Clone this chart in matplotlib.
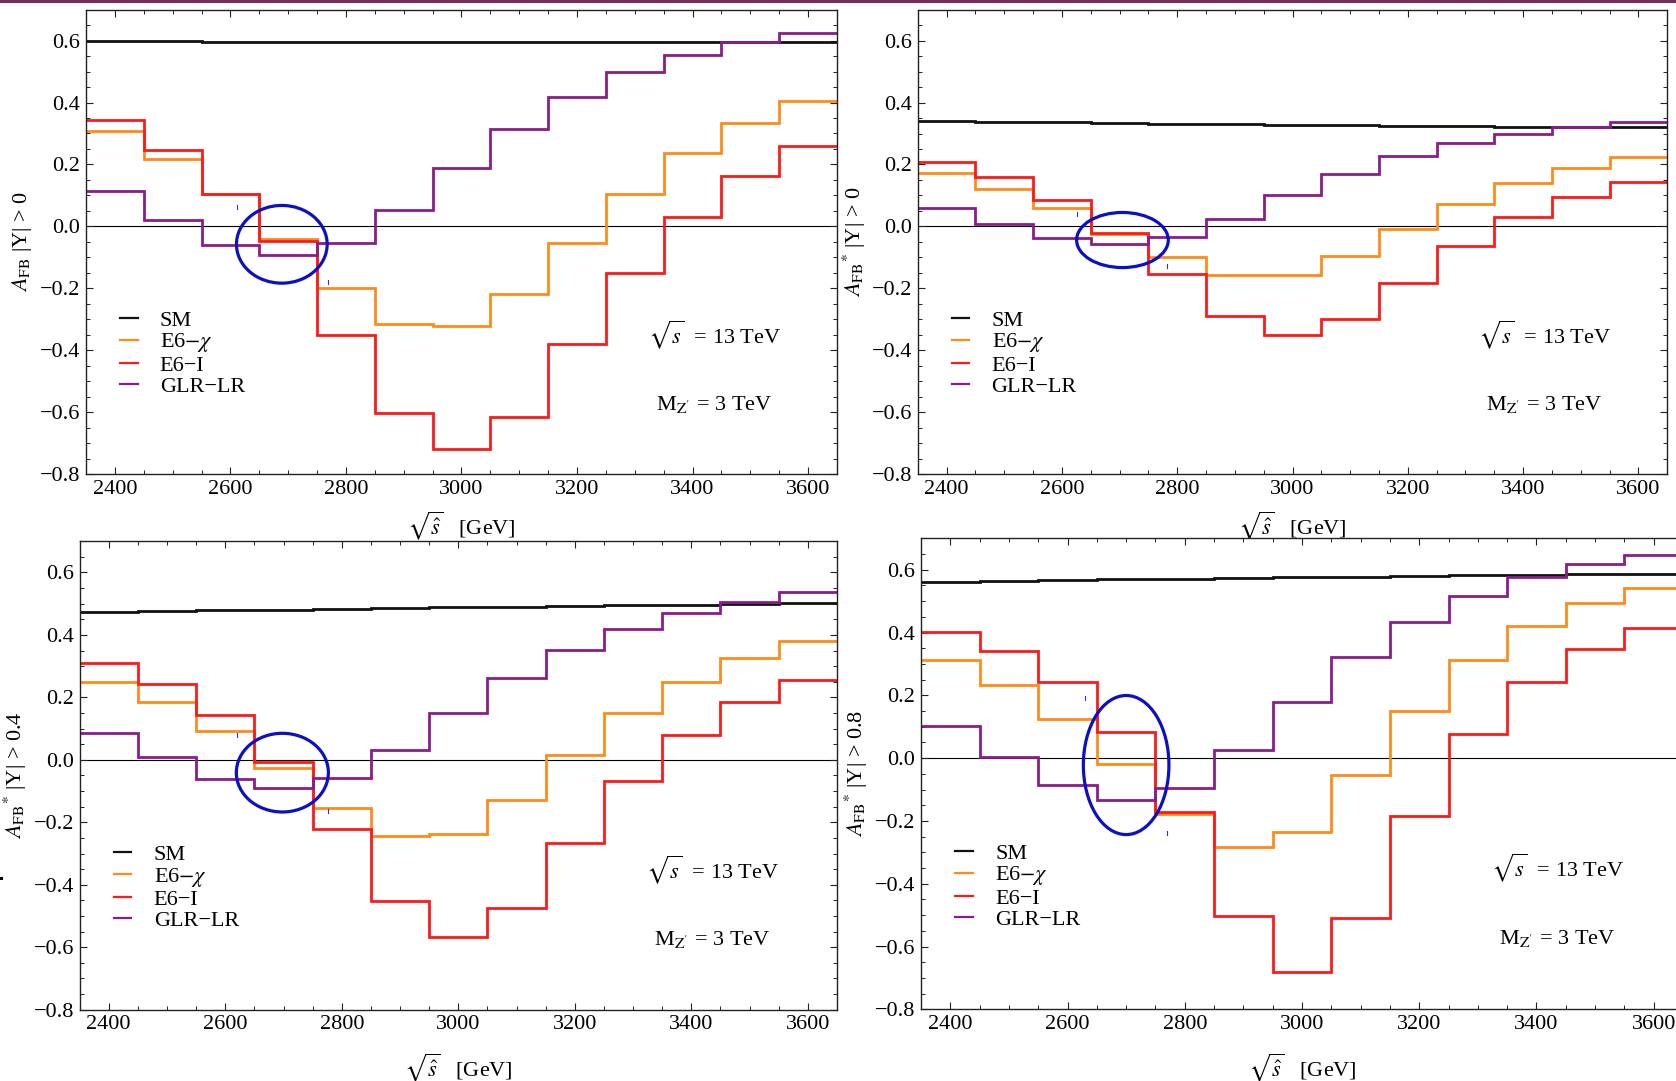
import numpy as np
import matplotlib.pyplot as plt
from matplotlib.patches import Ellipse, Rectangle
from matplotlib.lines import Line2D
from matplotlib.ticker import MultipleLocator, FuncFormatter

plt.rcParams['font.family'] = ['Liberation Serif', 'DejaVu Serif']
plt.rcParams['mathtext.fontset'] = 'stix'

# bin centres in sqrt(s-hat) [GeV], 100 GeV wide
mass_bins = [2400, 2500, 2600, 2700, 2800, 2900, 3000, 3100, 3200, 3300, 3400, 3500, 3600]

# A_FB, |Y| > 0
sm_a = [0.598, 0.598, 0.597, 0.597, 0.597, 0.596, 0.596, 0.596, 0.596, 0.595, 0.595, 0.595, 0.595]
chi_a = [0.307, 0.219, 0.103, -0.042, -0.199, -0.314, -0.323, -0.217, -0.054, 0.106, 0.237, 0.334, 0.404]
e6i_a = [0.342, 0.246, 0.106, -0.048, -0.350, -0.604, -0.718, -0.615, -0.381, -0.151, 0.031, 0.164, 0.259]
glr_a = [0.114, 0.021, -0.060, -0.094, -0.055, 0.053, 0.187, 0.314, 0.417, 0.497, 0.555, 0.594, 0.625]

# A_FB*, |Y| > 0
sm_b = [0.340, 0.338, 0.336, 0.334, 0.332, 0.330, 0.328, 0.327, 0.325, 0.324, 0.322, 0.321, 0.320]
chi_b = [0.171, 0.122, 0.059, -0.023, -0.099, -0.157, -0.157, -0.096, -0.009, 0.073, 0.140, 0.188, 0.224]
e6i_b = [0.209, 0.158, 0.086, -0.020, -0.155, -0.288, -0.350, -0.298, -0.182, -0.063, 0.029, 0.096, 0.144]
glr_b = [0.061, 0.007, -0.038, -0.057, -0.035, 0.025, 0.100, 0.169, 0.227, 0.269, 0.300, 0.320, 0.336]

# A_FB*, |Y| > 0.4
sm_c = [0.475, 0.477, 0.479, 0.481, 0.484, 0.486, 0.488, 0.491, 0.493, 0.495, 0.497, 0.499, 0.502]
chi_c = [0.250, 0.184, 0.091, -0.025, -0.153, -0.244, -0.236, -0.130, 0.017, 0.149, 0.250, 0.326, 0.380]
e6i_c = [0.309, 0.244, 0.144, -0.008, -0.222, -0.452, -0.566, -0.474, -0.265, -0.069, 0.080, 0.185, 0.257]
glr_c = [0.087, 0.008, -0.060, -0.091, -0.058, 0.033, 0.151, 0.262, 0.353, 0.420, 0.471, 0.507, 0.536]

# A_FB*, |Y| > 0.8
sm_d = [0.560, 0.563, 0.566, 0.569, 0.571, 0.574, 0.576, 0.578, 0.580, 0.582, 0.584, 0.586, 0.588]
chi_d = [0.311, 0.234, 0.125, -0.019, -0.179, -0.283, -0.235, -0.053, 0.151, 0.311, 0.421, 0.493, 0.542]
e6i_d = [0.402, 0.342, 0.244, 0.082, -0.173, -0.503, -0.682, -0.510, -0.184, 0.076, 0.242, 0.346, 0.415]
glr_d = [0.102, 0.004, -0.087, -0.133, -0.095, 0.025, 0.179, 0.323, 0.435, 0.517, 0.577, 0.617, 0.646]

model_names = ['SM', r'E6$-\chi$', 'E6\u2212I', 'GLR\u2212LR']
model_colors = ['#111111', '#ff8c1a', '#ff1a1a', '#8b1c8b']

ylabels = [r'$A_{\mathrm{FB}}$ |Y| > 0',
           r'$A_{\mathrm{FB}}{}^{*}$ |Y| > 0',
           r'$A_{\mathrm{FB}}{}^{*}$ |Y| > 0.4',
           r'$A_{\mathrm{FB}}{}^{*}$ |Y| > 0.8']

# highlighted region around the Z' pole (centre, width, height in data units)
ring_centres = [(2689, -0.058), (2705, -0.044), (2698, -0.041), (2700, -0.022)]
ring_sizes = [(157, 0.251), (159, 0.178), (158, 0.252), (146, 0.443)]
ring_marks = [[(2611, 0.063), (2769, -0.180)],
              [(2626, 0.039), (2782, -0.129)],
              [(2621, 0.079), (2777, -0.164)],
              [(2629, 0.192), (2770, -0.239)]]

panel_series = [(sm_a, chi_a, e6i_a, glr_a),
                (sm_b, chi_b, e6i_b, glr_b),
                (sm_c, chi_c, e6i_c, glr_c),
                (sm_d, chi_d, e6i_d, glr_d)]

# axes boxes in figure fraction
panel_rects = [[0.0513, 0.5615, 0.4481, 0.4296],
               [0.5476, 0.5615, 0.4472, 0.4295],
               [0.0475, 0.0660, 0.4519, 0.4333],
               [0.5495, 0.0663, 0.4547, 0.4357]]

W, H = 1676, 1081
fig = plt.figure(figsize=(W / 100, H / 100), dpi=100)

edges = np.append(np.array(mass_bins) - 50, mass_bins[-1] + 50)
minus_fmt = FuncFormatter(lambda v, p: f'{v:.1f}'.replace('-', '\u2212'))

for i, rect in enumerate(panel_rects):
    ax = fig.add_axes(rect)
    ax.set_zorder(0 if i < 2 else 1)

    ax.axhline(0, color='black', lw=0.8, zorder=1)
    for vals, col in zip(panel_series[i], model_colors):
        ax.stairs(vals, edges, baseline=None, color=col, lw=2.0, zorder=2)

    (cx, cy), (ew, eh) = ring_centres[i], ring_sizes[i]
    ax.add_patch(Ellipse((cx, cy), ew, eh, fill=False, edgecolor='#0c10c4', lw=2.3, zorder=4))
    for mx, my in ring_marks[i]:
        ax.plot([mx, mx], [my - 0.006, my + 0.006], color='#3030e0', lw=0.8, zorder=4)

    ax.set_xlim(2350, 3650)
    ax.set_ylim(-0.8, 0.7)
    ax.xaxis.set_major_locator(MultipleLocator(200))
    ax.xaxis.set_minor_locator(MultipleLocator(50))
    ax.yaxis.set_major_locator(MultipleLocator(0.2))
    ax.yaxis.set_minor_locator(MultipleLocator(0.05))
    ax.yaxis.set_major_formatter(minus_fmt)
    ax.tick_params(which='both', direction='in', top=True, right=True,
                   labelsize=16, pad=4, color='#222222')
    ax.tick_params(which='major', length=5, width=0.8)
    ax.tick_params(which='minor', length=3, width=0.7)
    for sp in ax.spines.values():
        sp.set_linewidth(1.0)
        sp.set_color('#222222')

    ax.set_xlabel(r'$\sqrt{\hat{s}}$   [GeV]', fontsize=16, va='top')
    ax.xaxis.set_label_coords(0.5, -0.076 if i < 2 else -0.088)
    ax.set_ylabel(ylabels[i], fontsize=16, va='center')
    ax.yaxis.set_label_coords(-0.085, 0.5)

    handles = [Line2D([], [], color=c, lw=1.6) for c in model_colors]
    ax.legend(handles, model_names, loc='upper left', bbox_to_anchor=(0.045, 0.353),
              frameon=False, fontsize=16, handlelength=0.8, handletextpad=1.0,
              labelspacing=0.03, borderpad=0, borderaxespad=0)

    ax.text(3322, -0.35, r'$\sqrt{s}$  = 13 TeV', fontsize=16, va='center', ha='left')
    ax.text(3336, -0.575, r'M$_{\mathrm{Z^{\prime}}}$ = 3 TeV', fontsize=16, va='center', ha='left')

# lower row sits over the tail of the upper x labels
fig.add_artist(Rectangle((0, 0), 1, (H - 540) / H, transform=fig.transFigure,
                         facecolor='white', edgecolor='none', zorder=0.5))
fig.add_artist(Rectangle((0, 1 - 3 / H), 1, 3 / H, transform=fig.transFigure,
                         facecolor='#7b2a5c', edgecolor='none', zorder=5))
fig.add_artist(Rectangle((0, (H - 880) / H), 3 / W, 3 / H, transform=fig.transFigure,
                         facecolor='black', edgecolor='none', zorder=5))

fig.savefig('out.png', dpi=100, facecolor='white')
